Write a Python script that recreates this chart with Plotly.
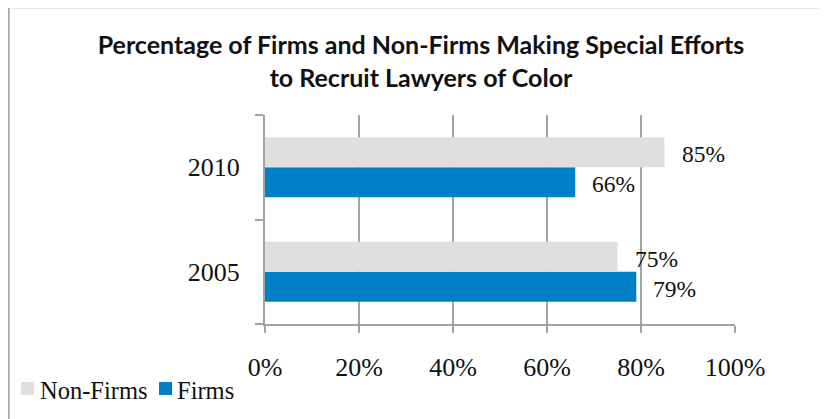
import plotly.graph_objects as go

# ---- data ----
categories = ["2005", "2010"]
firms = [79, 66]
non_firms = [75, 85]
x_tick_values = [0, 20, 40, 60, 80, 100]
x_tick_labels = ["0%", "20%", "40%", "60%", "80%", "100%"]
legend_names = ["Non-Firms", "Firms"]
title_text = "Percentage of Firms and Non-Firms Making Special Efforts<br>to Recruit Lawyers of Color"

# ---- style ----
OFF = 8                      # page body margin offset
W, H = 827 - OFF, 419 - OFF
ML, MT = 265 - OFF, 115 - OFF
MR = W - (735 - OFF)
MB = H - (324 - OFF)
GRAY_BAR = "#dfdfdf"
BLUE_BAR = "#0080c8"
GRID = "#a3a3a3"
FRAME = "#a8a8a8"
TXT = "#111111"
SERIF = "Liberation Serif"
BARGAP = 0.426

plot_w = W - ML - MR
plot_h = H - MT - MB


def px_x(px):
    return (px - OFF - ML) / plot_w


def px_y(py):
    return (H - MB - (py - OFF)) / plot_h


fig = go.Figure()
fig.add_trace(go.Bar(y=categories, x=firms, orientation="h", name=legend_names[1],
                     marker=dict(color=BLUE_BAR, line=dict(width=0)), showlegend=False,
                     hoverinfo="x+name"))
fig.add_trace(go.Bar(y=categories, x=non_firms, orientation="h", name=legend_names[0],
                     marker=dict(color=GRAY_BAR, line=dict(width=0)), showlegend=False,
                     hoverinfo="x+name"))

# data labels, placed at each bar's end
half = (1 - BARGAP) / 4
annotations = []
for i, cat in enumerate(categories):
    for val, off in ((firms[i], -half), (non_firms[i], half)):
        annotations.append(dict(x=val, y=i + off, xref="x", yref="y", text=f"{val}%",
                                showarrow=False, xanchor="left", yanchor="middle",
                                xshift=15, yshift=-2,
                                font=dict(family=SERIF, size=23.5, color=TXT)))

# legend (drawn manually to mimic the original layout)
legend_items = [(legend_names[0], GRAY_BAR, 21, 38), (legend_names[1], BLUE_BAR, 159, 175)]
shapes = []
for name, col, sx, tx in legend_items:
    shapes.append(dict(type="rect", xref="paper", yref="paper",
                       x0=px_x(sx), x1=px_x(sx + 13), y0=px_y(382), y1=px_y(395),
                       fillcolor=col, line=dict(width=0), layer="above"))
    annotations.append(dict(x=px_x(tx), y=px_y(390), xref="paper", yref="paper",
                            text=name, showarrow=False, xanchor="left", yanchor="middle",
                            font=dict(family=SERIF, size=24.5, color=TXT)))

# chart frame (top and left edges visible)
shapes.append(dict(type="line", xref="paper", yref="paper",
                   x0=px_x(7.5), x1=px_x(827 + 5), y0=px_y(7), y1=px_y(7),
                   line=dict(color=FRAME, width=2.5)))
shapes.append(dict(type="line", xref="paper", yref="paper",
                   x0=px_x(8.5), x1=px_x(8.5), y0=px_y(6), y1=px_y(419 + 5),
                   line=dict(color=FRAME, width=2.5)))

fig.update_layout(
    width=W, height=H,
    margin=dict(l=ML, r=MR, t=MT, b=MB, pad=0),
    paper_bgcolor="white", plot_bgcolor="white",
    barmode="group", bargap=BARGAP, bargroupgap=0,
    title=dict(text=title_text, x=(421 - OFF) / W, xref="container", xanchor="center",
               y=1 - (54 - OFF) / H, yref="container", yanchor="middle",
               font=dict(family="Lato", size=25, color=TXT, weight="bold")),
    showlegend=False,
    shapes=shapes,
    annotations=annotations,
)

fig.update_xaxes(range=[0, 100], tickvals=x_tick_values, ticktext=x_tick_labels,
                 showgrid=True, gridcolor=GRID, gridwidth=2, zeroline=False,
                 showline=True, linecolor=GRID, linewidth=2,
                 ticks="outside", ticklen=7, tickwidth=2, tickcolor=GRID,
                 ticklabelstandoff=12,
                 tickfont=dict(family=SERIF, size=26, color=TXT), fixedrange=True)
fig.update_yaxes(type="category", categoryorder="array", categoryarray=categories,
                 showgrid=False, zeroline=False,
                 showline=True, linecolor=GRID, linewidth=2,
                 ticks="outside", tickson="boundaries", ticklen=8, tickwidth=2, tickcolor=GRID,
                 ticklabelstandoff=18,
                 tickfont=dict(family=SERIF, size=26, color=TXT), fixedrange=True)

fig.write_html("out.html")
